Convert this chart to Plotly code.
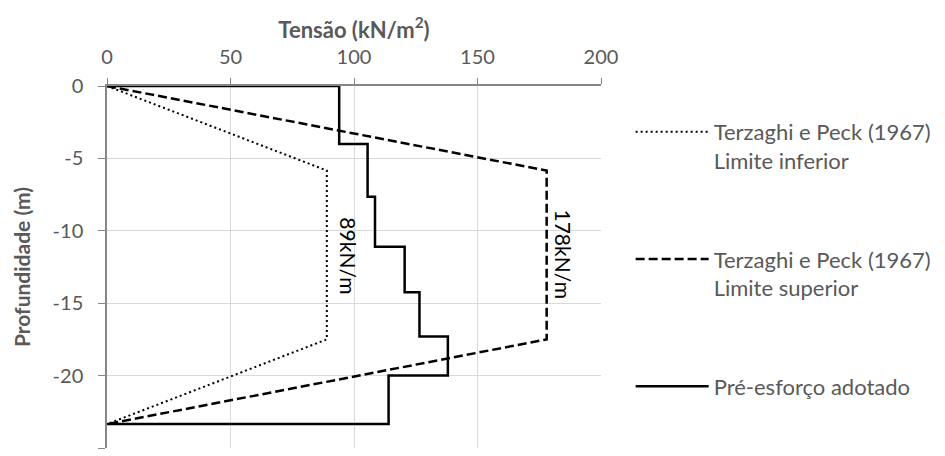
import plotly.graph_objects as go

# Data
solid_x = [0, 94, 94, 105.5, 105.5, 108.5, 108.5, 120.5, 120.5, 126.5, 126.5, 138, 138, 114, 114, 0]
solid_y = [0, 0, -4, -4, -7.65, -7.65, -11.1, -11.1, -14.25, -14.25, -17.3, -17.3, -20, -20, -23.35, -23.35]
upper_x = [0, 178, 178, 0]
upper_y = [0, -5.84, -17.5, -23.35]
lower_x = [0, 89, 89, 0]
lower_y = [0, -5.84, -17.5, -23.35]
x_ticks = [0, 50, 100, 150, 200]
y_ticks = [0, -5, -10, -15, -20, -25]
y_ticklabels = ["0", "-5", "-10", "-15", "-20", "-25"]

FONT = "Lato"
GRAY = "#595959"

fig = go.Figure()
fig.add_trace(go.Scatter(x=lower_x, y=lower_y, mode="lines",
                         name="Terzaghi e Peck (1967)<br>Limite inferior",
                         line=dict(color="black", width=2, dash="2px,3px"),
                         legendgroup="a"))
fig.add_trace(go.Scatter(x=upper_x, y=upper_y, mode="lines",
                         name="Terzaghi e Peck (1967)<br>Limite superior",
                         line=dict(color="black", width=2.5, dash="9px,4px"),
                         legendgroup="b"))
fig.add_trace(go.Scatter(x=solid_x, y=solid_y, mode="lines",
                         name="Pré-esforço adotado",
                         line=dict(color="black", width=2.5),
                         legendgroup="c"))

fig.add_annotation(x=98, y=-11.7, text="89kN/m", textangle=90, showarrow=False,
                   font=dict(family=FONT, size=21, color="black"))
fig.add_annotation(x=184.8, y=-11.6, text="178kN/m", textangle=90, showarrow=False,
                   font=dict(family=FONT, size=21, color="black"))

fig.update_layout(
    width=945, height=456,
    margin=dict(l=107, r=334, t=86, b=8),
    paper_bgcolor="white", plot_bgcolor="white",
    font=dict(family=FONT, size=20, color=GRAY),
    showlegend=True,
    legend=dict(x=1.060, y=0.931, xanchor="left", yanchor="top",
                tracegroupgap=67, valign="top",
                font=dict(family=FONT, size=22, color=GRAY),
                itemwidth=73, bgcolor="rgba(0,0,0,0)"),
    xaxis=dict(side="top", range=[0, 200], tickvals=x_ticks,
               showgrid=True, gridcolor="#d9d9d9", gridwidth=1,
               showline=True, linecolor="#868686", linewidth=1.5,
               ticks="outside", ticklen=6, tickcolor="#868686",
               ticklabelstandoff=6,
               zeroline=False, automargin=False,
               title=dict(text="<b>Tensão (kN/m<sup>2</sup>)</b>", standoff=0,
                          font=dict(family=FONT, size=22, color=GRAY)),
               tickfont=dict(family=FONT, size=20, color=GRAY)),
    yaxis=dict(range=[-25, 0], tickvals=y_ticks, ticktext=y_ticklabels,
               showgrid=True, gridcolor="#d9d9d9", gridwidth=1,
               showline=True, linecolor="#868686", linewidth=1.5,
               ticks="outside", ticklen=7, tickcolor="#868686",
               ticklabelstandoff=11,
               zeroline=False, automargin=False,
               title=dict(text="<b>Profundidade (m)</b>", standoff=16,
                          font=dict(family=FONT, size=21, color=GRAY)),
               tickfont=dict(family=FONT, size=20, color=GRAY)),
)

fig.write_html("out.html", config={"displayModeBar": False},
               post_script="document.body.style.margin='0';")
